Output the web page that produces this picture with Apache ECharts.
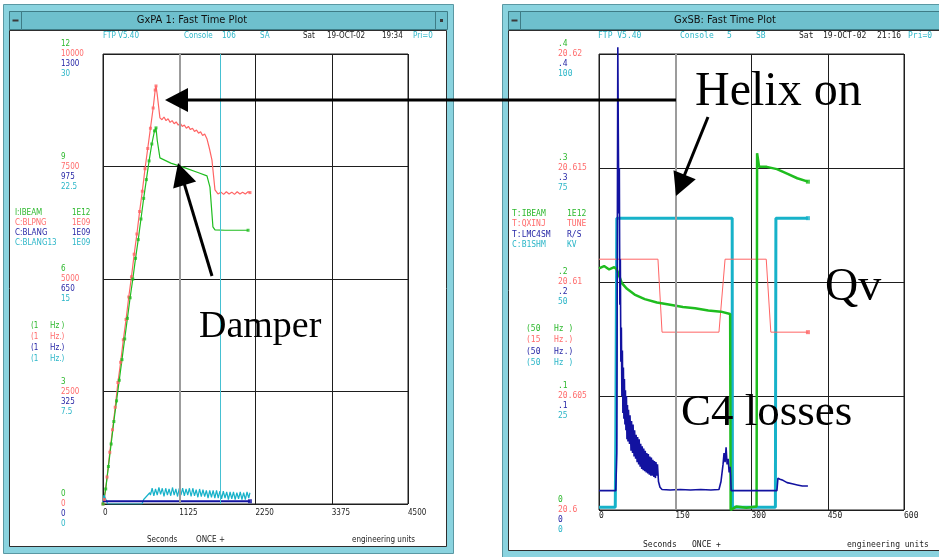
<!DOCTYPE html>
<html><head><meta charset="utf-8">
<script src="https://cdn.jsdelivr.net/npm/echarts@6/dist/echarts.min.js"></script>
<style>html,body{margin:0;padding:0;background:#fff}#c{width:939px;height:557px}</style>
</head><body><div id="c"></div>
<script>
// ---------------- DATA ----------------
// Left plot (GxPA 1), x in seconds 0..4500
const leftXTicks = ['0', '1125', '2250', '3375', '4500'];
const leftGreenTicks = ['0', '3', '6', '9', '12'];
const leftRedTicks = ['0', '2500', '5000', '7500', '10000'];
const leftBlueTicks = ['0', '325', '650', '975', '1300'];
const leftCyanTicks = ['0', '7.5', '15', '22.5', '30'];
const leftChannels = ['I:IBEAM', 'C:BLPNG', 'C:BLANG', 'C:BLANG13'];
const leftUnits = ['1E12', '1E09', '1E09', '1E09'];
const leftRates = ['(1', '(1', '(1', '(1'];
const leftRateUnits = ['Hz )', 'Hz.)', 'Hz.)', 'Hz.)'];
const leftHeaderText = ['FTP V5.40', 'Console', '106', 'SA', 'Sat', '19-OCT-02', '19:34', 'Pri=0'];
const leftFooterText = ['Seconds', 'ONCE +', 'engineering units'];
const leftTitle = 'GxPA 1: Fast Time Plot';

const leftRedRamp = [[0,0],[20,100],[60,600],[100,1150],[140,1650],[180,2150],[220,2700],[260,3150],[300,3650],[340,4100],[380,4600],[420,5050],[460,5550],[500,6000],[540,6500],[580,6950],[620,7450],[660,7900],[700,8350],[740,8800],[770,9200],[782,9290]];
const leftRedTail = [[800,9100],[840,8580],[870,8540],[900,8600],[930,8520],[960,8560],[990,8480],[1020,8520],[1050,8450],[1080,8490],[1110,8420],[1140,8460],[1170,8390],[1200,8420],[1230,8350],[1260,8390],[1290,8320],[1320,8350],[1350,8280],[1380,8310],[1410,8240],[1440,8270],[1470,8190],[1500,8220],[1535,8110],[1570,7900],[1608,7640],[1652,6980],[1696,6890],[1740,6930],[1780,6880],[1820,6940],[1860,6890],[1900,6930],[1940,6880],[1980,6940],[2020,6890],[2060,6930],[2100,6890],[2140,6940],[2168,6920]];
const leftGreenRamp = [[0,0],[40,0.4],[80,1.0],[120,1.6],[160,2.2],[200,2.75],[240,3.3],[280,3.85],[320,4.4],[360,4.95],[400,5.5],[440,6.0],[480,6.55],[520,7.05],[560,7.6],[600,8.15],[640,8.65],[680,9.15],[720,9.6],[760,9.95],[782,10.03]];
const leftGreenTail = [[800,9.7],[840,9.23],[1000,9.09],[1200,8.97],[1400,8.84],[1534,8.75],[1578,8.45],[1622,7.39],[1652,7.31],[1800,7.3],[2000,7.3],[2140,7.3]];
const leftBlue = [[0,8],[500,8],[1000,8],[1500,8],[2168,8]];
const leftCyan = [[0,0.1],[15,0.6],[40,0.5],[70,0.0],[100,0],[575,0],[600,0.3],[640,0.5],[690,0.75],
 [700,0.6],[725,1.05],[750,0.55],[775,1.0],[800,0.6],[825,1.1],[850,0.65],[875,1.05],[900,0.5],[925,1.05],[950,0.6],[975,1.0],[1000,0.55],[1025,1.1],[1050,0.6],[1075,1.0],[1100,0.5],[1125,1.05],[1150,0.6],[1175,1.05],[1200,0.55],[1225,1.0],[1250,0.6],[1275,1.05],[1300,0.5],[1325,1.05],[1350,0.55],[1375,0.95],[1400,0.45],[1425,1.0],[1450,0.5],[1475,0.95],[1500,0.5],[1525,0.9],[1550,0.4],[1575,0.9],[1600,0.45],[1625,0.9],[1650,0.4],[1675,0.9],[1700,0.4],[1725,0.85],[1750,0.35],[1775,0.85],[1800,0.4],[1825,0.8],[1850,0.3],[1875,0.8],[1900,0.35],[1925,0.8],[1950,0.3],[1975,0.75],[2000,0.35],[2025,0.8],[2050,0.3],[2075,0.75],[2100,0.3],[2125,0.8],[2150,0.4],[2168,0.75]];
const leftGrayLineAt = 1125;
const leftCursorAt = 1726;

// Right plot (GxSB), x in seconds 0..600
const rightXTicks = ['0', '150', '300', '450', '600'];
const rightGreenTicks = ['0', '.1', '.2', '.3', '.4'];
const rightRedTicks = ['20.6', '20.605', '20.61', '20.615', '20.62'];
const rightBlueTicks = ['0', '.1', '.2', '.3', '.4'];
const rightCyanTicks = ['0', '25', '50', '75', '100'];
const rightChannels = ['T:IBEAM', 'T:QXINJ', 'T:LMC4SM', 'C:B1SHM'];
const rightUnits = ['1E12', 'TUNE', 'R/S', 'KV'];
const rightRates = ['(50', '(15', '(50', '(50'];
const rightRateUnits = ['Hz )', 'Hz.)', 'Hz.)', 'Hz )'];
const rightHeaderText = ['FTP V5.40', 'Console', '5', 'SB', 'Sat', '19-OCT-02', '21:16', 'Pri=0'];
const rightFooterText = ['Seconds', 'ONCE +', 'engineering units'];
const rightTitle = 'GxSB: Fast Time Plot';

const rightGreen = [[0,0.212],[10,0.214],[20,0.211],[30,0.213],[35,0.211],[40,0.205],[45,0.199],[55,0.194],[70,0.189],[90,0.185],[114,0.182],[140,0.18],[165,0.178],[189,0.177],[215,0.175],[240,0.174],[258,0.172],[259,0.0],[270,0.003],[290,0.002],[310,0.003],[311,0.313],[315,0.301],[330,0.301],[350,0.299],[370,0.295],[390,0.291],[411,0.288]];
const rightRed = [[0,20.611],[116,20.611],[124,20.6078],[236,20.6078],[248,20.611],[329,20.611],[338,20.6078],[411,20.6078]];
const rightBlue = [[0,0.017],[33,0.017],[35,0.05],[37,0.406],[38,0.33],[39,0.26],[40,0.3],[41,0.18],[42,0.22],[43,0.13],[44,0.16],[45,0.1],[46,0.14],[47,0.085],[48,0.125],[49,0.08],[50,0.115],[51,0.075],[52,0.105],[53,0.07],[54,0.1],[55,0.062],[56,0.092],[57,0.06],[58,0.088],[60,0.058],[61,0.083],[63,0.052],[64,0.078],[66,0.05],[67,0.075],[69,0.047],[70,0.07],[72,0.045],[73,0.066],[75,0.042],[76,0.064],[78,0.04],[79,0.062],[81,0.038],[82,0.058],[84,0.036],[85,0.056],[87,0.035],[88,0.054],[90,0.034],[91,0.052],[93,0.033],[94,0.05],[96,0.032],[97,0.049],[99,0.031],[100,0.047],[102,0.03],[103,0.046],[105,0.03],[106,0.044],[108,0.029],[109,0.043],[111,0.028],[112,0.042],[114,0.03],[115,0.04],[117,0.025],[120,0.02],[124,0.018],[140,0.0175],[160,0.018],[180,0.0175],[200,0.018],[220,0.0175],[236,0.018],[240,0.025],[244,0.04],[246,0.05],[248,0.042],[250,0.055],[252,0.04],[254,0.045],[256,0.033],[258,0.038],[259,0.03],[260,0.017],[300,0.017],[350,0.017],[352,0.028],[356,0.027],[362,0.026],[370,0.024],[380,0.023],[390,0.022],[400,0.021],[411,0.021]];
const rightCyan = [[0,0.6],[32,0.6],[33,15],[35,64],[262,64],[262.5,0.6],[347,0.6],[348,64],[411,64]];
const rightGrayLineAt = 150;

// ---------------- STYLE / LAYOUT ----------------
const GREEN = '#1fbd1f', RED = '#ff6464', BLUE = '#1212a0', CYAN = '#17b2c9';
const LGREEN = '#2db82d', LRED = '#ff6b6b', LBLUE = '#2626a6', LCYAN = '#2cb6c8';
const MONO = "'DejaVu Sans Mono', monospace";
const NARROW = "'Liberation Sans Narrow', 'DejaVu Sans Condensed', 'Liberation Sans', sans-serif";
const SERIF = "'Liberation Serif', 'DejaVu Serif', serif";

// shift: -1 one line above tick, 0 at tick, 1 one line below, 2 two lines below
function shiftLabel(s, shift) {
  if (shift < 0) return s + '\n \n ';
  if (shift === 1) return ' \n \n' + s;
  if (shift === 2) return ' \n \n \n \n' + s;
  return s;
}
function yAx(gi, min, max, interval, labels, color, shift, margin, split, font) {
  return {
    gridIndex: gi, type: 'value', min, max, interval, position: 'left',
    axisLine: {show: false}, axisTick: {show: false},
    splitLine: {show: split, lineStyle: {color: '#1e1e1e', width: 1}},
    axisLabel: {
      color, fontSize: 8, fontFamily: font, align: 'left', margin, lineHeight: 10, verticalAlign: 'middle',
      formatter: v => shiftLabel(labels[Math.round((v - min) / interval)], shift)
    }
  };
}
function xAx(gi, max, interval, labels, margin, font) {
  return {
    gridIndex: gi, type: 'value', min: 0, max, interval,
    axisLine: {show: false}, axisTick: {show: false},
    splitLine: {show: true, lineStyle: {color: '#1e1e1e', width: 1}},
    axisLabel: {color: '#222', fontSize: 8, fontFamily: font, align: 'left', margin,
      formatter: v => labels[Math.round(v / interval)]}
  };
}
function ln(xi, yi, data, color, width, extra) {
  return Object.assign({type: 'line', xAxisIndex: xi, yAxisIndex: yi, data, showSymbol: false,
    symbol: 'none', lineStyle: {color, width}, itemStyle: {color}, animation: false, z: 3}, extra || {});
}
function pts(xi, yi, data, color, size) {
  return {type: 'scatter', xAxisIndex: xi, yAxisIndex: yi, data, symbol: 'rect', symbolSize: size,
    itemStyle: {color}, animation: false, z: 4, silent: true};
}
const last = a => [a[a.length - 1]];

const series = [
  // left
  ln(0, 1, leftRedRamp.concat(leftRedTail), RED, 1.2),
  pts(0, 1, leftRedRamp.concat(last(leftRedTail)), RED, 3),
  ln(0, 0, leftGreenRamp.concat(leftGreenTail), GREEN, 1.2),
  pts(0, 0, leftGreenRamp.concat(last(leftGreenTail)), GREEN, 3),
  ln(0, 3, leftCyan, CYAN, 1.2),
  ln(0, 2, leftBlue, BLUE, 2, {markLine: {silent: true, symbol: 'none', label: {show: false}, animation: false,
    data: [{xAxis: leftGrayLineAt, lineStyle: {color: '#9c9c9c', width: 2, type: 'solid'}},
           {xAxis: leftCursorAt, lineStyle: {color: '#45c0d2', width: 1, type: 'solid'}}]}}),
  pts(0, 2, last(leftBlue), BLUE, 4),
  // right
  ln(1, 7, rightCyan, CYAN, 3, {markLine: {silent: true, symbol: 'none', label: {show: false}, animation: false,
    data: [{xAxis: rightGrayLineAt, lineStyle: {color: '#9c9c9c', width: 2, type: 'solid'}}]}}),
  pts(1, 7, last(rightCyan), CYAN, 4),
  ln(1, 5, rightRed, RED, 1),
  pts(1, 5, last(rightRed), RED, 4),
  ln(1, 4, rightGreen, GREEN, 2.5),
  pts(1, 4, last(rightGreen), GREEN, 4),
  ln(1, 6, rightBlue, BLUE, 1.6, {clip: false})
];

// graphic helpers
const G = [];
function rect(x, y, w, h, fill, stroke, z) { G.push({type: 'rect', z: z || 0, silent: true, shape: {x, y, width: w, height: h}, style: {fill, stroke: stroke || null, lineWidth: 1}}); }
function txt(s, x, y, color, size, font, z, align) { G.push({type: 'text', z: z || 5, silent: true, x, y, style: {text: s, fill: color, fontSize: size, fontFamily: font, verticalAlign: 'middle', align: align || 'left'}}); }

// window chrome
function windowFrame(x0, w, h) {
  rect(x0 + 0.5, 4.5, w, h + 33, '#8ad3df', '#5a98a3', -10);
  rect(x0 + 6.5, 11.5, w - 13, 18, '#6ec0cd', '#3e7c86', -9);
  rect(x0 + 6.5, 11.5, 12, 18, '#6ec0cd', '#3e7c86', -8);
  rect(x0 + 9.5, 19.5, 6, 2, '#3a3a3a', null, -7);
  rect(x0 + 6.5, 30.5, w - 13, h, '#ffffff', '#2e2e2e', -9);
}
windowFrame(3, 450, 516);
rect(435.5, 11.5, 12, 18, '#6ec0cd', '#3e7c86', -8);
rect(440, 19, 3, 3, '#3a3a3a', null, -7);
windowFrame(502, 450, 520);

// titles
txt(leftTitle, 192, 20.5, '#111', 11, NARROW, 5, 'center');
txt(rightTitle, 725, 20.5, '#111', 11, NARROW, 5, 'center');

// headers
const leftHeaderX = [103, 184, 222, 260, 303, 327, 382, 413];
const rightHeaderX = [598, 680, 727, 756, 799, 823, 877, 908];
const headerColors = [LCYAN, LCYAN, LCYAN, LCYAN, '#222', '#222', '#222', LCYAN];
leftHeaderText.forEach((s, i) => txt(s, leftHeaderX[i], 36, headerColors[i], 8, NARROW));
rightHeaderText.forEach((s, i) => txt(s, rightHeaderX[i], 36, headerColors[i], 8, MONO));

// legends
const chColors = [LGREEN, LRED, LBLUE, LCYAN];
leftChannels.forEach((s, i) => { txt(s, 15, 213 + 10 * i, chColors[i], 8, NARROW); txt(leftUnits[i], 72, 213 + 10 * i, chColors[i], 8, NARROW); });
leftRates.forEach((s, i) => { txt(s, 31, 326 + 11 * i, chColors[i], 8, NARROW); txt(leftRateUnits[i], 50, 326 + 11 * i, chColors[i], 8, NARROW); });
rightChannels.forEach((s, i) => { txt(s, 512, 214 + 10.3 * i, chColors[i], 8, MONO); txt(rightUnits[i], 567, 214 + 10.3 * i, chColors[i], 8, MONO); });
rightRates.forEach((s, i) => { txt(s, 526, 329 + 11.3 * i, chColors[i], 8, MONO); txt(rightRateUnits[i], 554, 329 + 11.3 * i, chColors[i], 8, MONO); });

// footers
const leftFooterX = [147, 196, 352], rightFooterX = [643, 692, 847];
leftFooterText.forEach((s, i) => txt(s, leftFooterX[i], 540, '#222', 8, NARROW));
rightFooterText.forEach((s, i) => txt(s, rightFooterX[i], 545, '#222', 8, MONO));

// annotations
function arrow(x1, y1, tx, ty, len, half) {
  const dx = tx - x1, dy = ty - y1, L = Math.hypot(dx, dy), ux = dx / L, uy = dy / L;
  const bx = tx - ux * len, by = ty - uy * len, px = -uy, py = ux;
  G.push({type: 'line', z: 100, silent: true, shape: {x1, y1, x2: bx + ux * 2, y2: by + uy * 2}, style: {stroke: '#000', lineWidth: 3}});
  G.push({type: 'polygon', z: 100, silent: true, shape: {points: [[tx, ty], [bx + px * half, by + py * half], [bx - px * half, by - py * half]]}, style: {fill: '#000'}});
}
arrow(676, 100, 165, 100, 23, 12);
arrow(708, 117, 676, 196, 23, 12);
arrow(212, 276, 178, 163, 23, 12);
txt('Helix on', 695, 92, '#000', 48, SERIF, 100);
txt('Damper', 199, 327, '#000', 38, SERIF, 100);
txt('Qv', 825, 288, '#000', 46, SERIF, 100);
txt('C4 losses', 681, 413, '#000', 45, SERIF, 100);

const option = {
  animation: false,
  backgroundColor: '#ffffff',
  grid: [
    {left: 103, top: 54, width: 305, height: 450, show: true, borderColor: '#1e1e1e', borderWidth: 1, backgroundColor: 'transparent'},
    {left: 599, top: 54, width: 305, height: 456, show: true, borderColor: '#1e1e1e', borderWidth: 1, backgroundColor: 'transparent'}
  ],
  xAxis: [xAx(0, 4500, 1125, leftXTicks, 5, NARROW), xAx(1, 600, 150, rightXTicks, 2, MONO)],
  yAxis: [
    yAx(0, 0, 12, 3, leftGreenTicks, LGREEN, -1, 42, true, NARROW),
    yAx(0, 0, 10000, 2500, leftRedTicks, LRED, 0, 42, false, NARROW),
    yAx(0, 0, 1300, 325, leftBlueTicks, LBLUE, 1, 42, false, NARROW),
    yAx(0, 0, 30, 7.5, leftCyanTicks, LCYAN, 2, 42, false, NARROW),
    yAx(1, 0, 0.4, 0.1, rightGreenTicks, LGREEN, -1, 41, true, MONO),
    yAx(1, 20.6, 20.62, 0.005, rightRedTicks, LRED, 0, 41, false, MONO),
    yAx(1, 0, 0.4, 0.1, rightBlueTicks, LBLUE, 1, 41, false, MONO),
    yAx(1, 0, 100, 25, rightCyanTicks, LCYAN, 2, 41, false, MONO)
  ],
  series,
  graphic: {elements: G}
};
const chart = echarts.init(document.getElementById('c'), null, {renderer: 'canvas'});
chart.setOption(option);
</script></body></html>
